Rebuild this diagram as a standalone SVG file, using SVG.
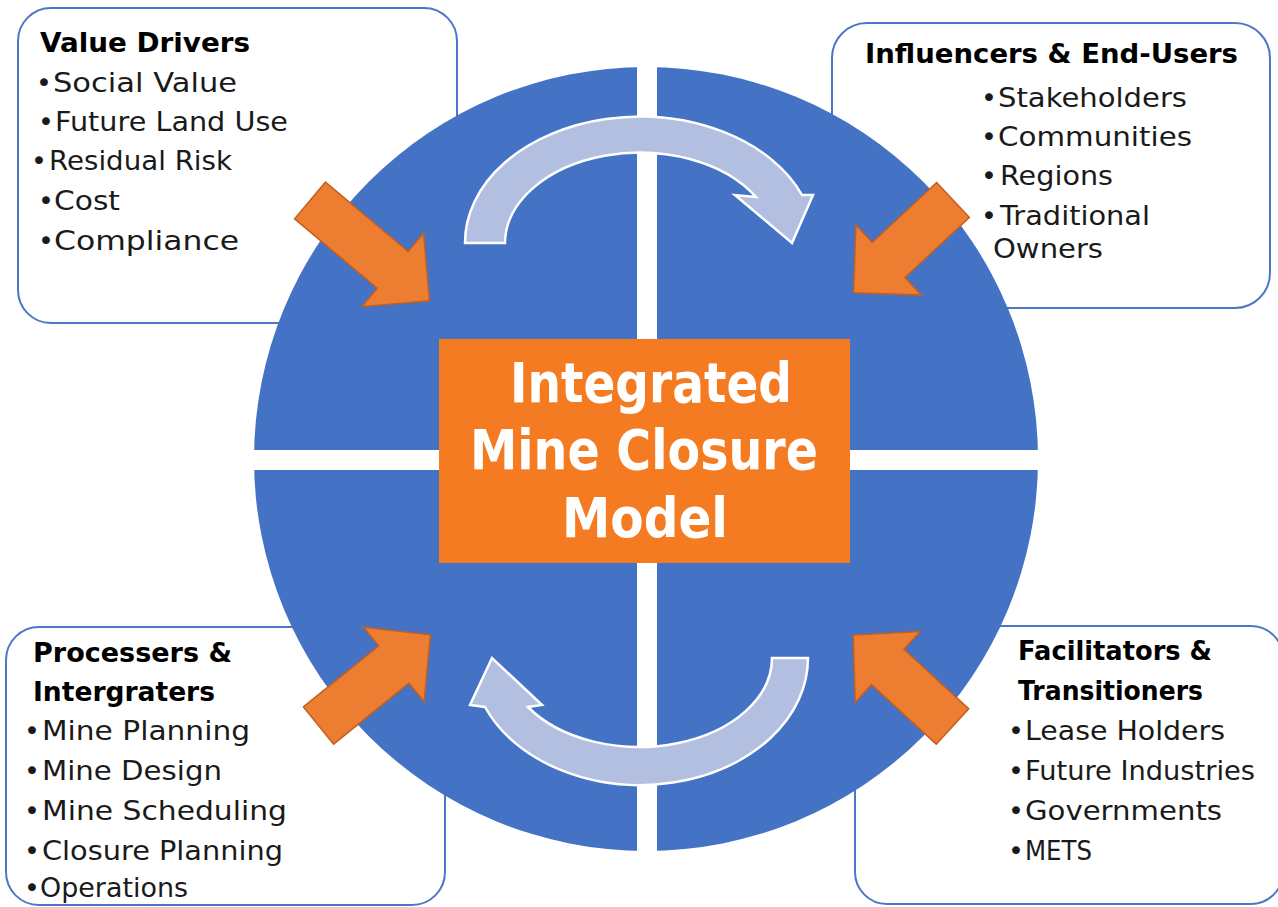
<svg xmlns="http://www.w3.org/2000/svg" width="1278" height="907" viewBox="0 0 1278 907">
<style>
.box{fill:#ffffff;stroke:#4f76c4;stroke-width:2}
.t{font-family:"DejaVu Sans","Liberation Sans",sans-serif;font-size:27px;fill:#1a1a1a}
.h{font-family:"DejaVu Sans","Liberation Sans",sans-serif;font-size:27px;font-weight:bold;fill:#000000}
.c{font-family:"DejaVu Sans","Liberation Sans",sans-serif;font-size:55px;font-weight:bold;fill:#ffffff}
.oa{fill:#ED7D31;stroke:#C55F1E;stroke-width:1.5}
.ca{fill:#B3BFE0;stroke:#ffffff;stroke-width:2.5}
</style>
<rect width="1278" height="907" fill="#ffffff"/>
<g id="box-value-drivers">
<rect class="box" x="18" y="8" width="439" height="315" rx="33"/>
<text class="h" x="40" y="52" textLength="210" lengthAdjust="spacingAndGlyphs">Value Drivers</text>
<text class="t" x="36" y="92">•</text><text class="t" x="53" y="92" textLength="184" lengthAdjust="spacingAndGlyphs">Social Value</text>
<text class="t" x="38" y="131">•</text><text class="t" x="55" y="131" textLength="233" lengthAdjust="spacingAndGlyphs">Future Land Use</text>
<text class="t" x="31" y="170">•</text><text class="t" x="49" y="170" textLength="183" lengthAdjust="spacingAndGlyphs">Residual Risk</text>
<text class="t" x="38" y="210">•</text><text class="t" x="54" y="210" textLength="66" lengthAdjust="spacingAndGlyphs">Cost</text>
<text class="t" x="38" y="250">•</text><text class="t" x="54" y="250" textLength="185" lengthAdjust="spacingAndGlyphs">Compliance</text>
</g>
<g id="box-influencers">
<rect class="box" x="832" y="23" width="438" height="285" rx="35"/>
<text class="h" x="865" y="63" textLength="373" lengthAdjust="spacingAndGlyphs">Influencers &amp; End-Users</text>
<text class="t" x="981" y="107">•</text><text class="t" x="998" y="107" textLength="189" lengthAdjust="spacingAndGlyphs">Stakeholders</text>
<text class="t" x="981" y="146">•</text><text class="t" x="998" y="146" textLength="194" lengthAdjust="spacingAndGlyphs">Communities</text>
<text class="t" x="981" y="185">•</text><text class="t" x="1000" y="185" textLength="113" lengthAdjust="spacingAndGlyphs">Regions</text>
<text class="t" x="981" y="225">•</text><text class="t" x="1000" y="225" textLength="150" lengthAdjust="spacingAndGlyphs">Traditional</text>
<text class="t" x="993" y="258" textLength="110" lengthAdjust="spacingAndGlyphs">Owners</text>
</g>
<g id="box-processers">
<rect class="box" x="6" y="627" width="439" height="278" rx="33"/>
<text class="h" x="33" y="662" textLength="199" lengthAdjust="spacingAndGlyphs">Processers &amp;</text>
<text class="h" x="33" y="701" textLength="182" lengthAdjust="spacingAndGlyphs">Intergraters</text>
<text class="t" x="24" y="740">•</text><text class="t" x="42" y="740" textLength="208" lengthAdjust="spacingAndGlyphs">Mine Planning</text>
<text class="t" x="24" y="780">•</text><text class="t" x="42" y="780" textLength="180" lengthAdjust="spacingAndGlyphs">Mine Design</text>
<text class="t" x="24" y="820">•</text><text class="t" x="42" y="820" textLength="245" lengthAdjust="spacingAndGlyphs">Mine Scheduling</text>
<text class="t" x="24" y="860">•</text><text class="t" x="42" y="860" textLength="241" lengthAdjust="spacingAndGlyphs">Closure Planning</text>
<text class="t" x="24" y="897">•</text><text class="t" x="40" y="897" textLength="148" lengthAdjust="spacingAndGlyphs">Operations</text>
</g>
<g id="box-facilitators">
<rect class="box" x="855" y="626" width="428" height="278" rx="32"/>
<text class="h" x="1018" y="660" textLength="194" lengthAdjust="spacingAndGlyphs">Facilitators &amp;</text>
<text class="h" x="1018" y="700" textLength="185" lengthAdjust="spacingAndGlyphs">Transitioners</text>
<text class="t" x="1008" y="740">•</text><text class="t" x="1025" y="740" textLength="200" lengthAdjust="spacingAndGlyphs">Lease Holders</text>
<text class="t" x="1008" y="780">•</text><text class="t" x="1025" y="780" textLength="230" lengthAdjust="spacingAndGlyphs">Future Industries</text>
<text class="t" x="1008" y="820">•</text><text class="t" x="1025" y="820" textLength="197" lengthAdjust="spacingAndGlyphs">Governments</text>
<text class="t" x="1008" y="860">•</text><text class="t" x="1025" y="860" textLength="67" lengthAdjust="spacingAndGlyphs">METS</text>
</g>
<g id="circle">
<circle cx="646" cy="459" r="392" fill="#4472C4"/>
<rect x="637" y="60" width="20" height="800" fill="#ffffff"/>
<rect x="250" y="450" width="795" height="20" fill="#ffffff"/>
</g>
<g id="connectors">
<path id="cycle-top" class="ca" d="M465,243 A175,126 0 0 1 802,195 L813,195 L792,243 L735,195 L756,197 A135,91 0 0 0 505,243 Z"/>
<path id="cycle-bottom" class="ca" d="M808,658 A168,127 0 0 1 485,707 L470,705 L492,658 L542,705 L528,707 A133,89 0 0 0 772,658 Z"/>
<polygon id="arrow-tl" class="oa" transform="translate(310,200.5) rotate(40)" points="0,-24 108,-24 108,-48 156,0 108,48 108,24 0,24"/>
<polygon id="arrow-tr" class="oa" transform="translate(953,200) rotate(137)" points="0,-24 88,-24 88,-48 136,0 88,48 88,24 0,24"/>
<polygon id="arrow-bl" class="oa" transform="translate(318.5,725.5) rotate(-39)" points="0,-24 97,-24 97,-48 144,0 97,48 97,24 0,24"/>
<polygon id="arrow-br" class="oa" transform="translate(952.5,726.5) rotate(-137.4)" points="0,-24 88,-24 88,-48 135,0 88,48 88,24 0,24"/>
</g>
<g id="center-model">
<rect x="439" y="339" width="411" height="224" fill="#F47B22"/>
<text class="c" x="510" y="402" textLength="282" lengthAdjust="spacingAndGlyphs">Integrated</text>
<text class="c" x="470" y="469" textLength="348" lengthAdjust="spacingAndGlyphs">Mine Closure</text>
<text class="c" x="562" y="537" textLength="166" lengthAdjust="spacingAndGlyphs">Model</text>
</g>
</svg>
